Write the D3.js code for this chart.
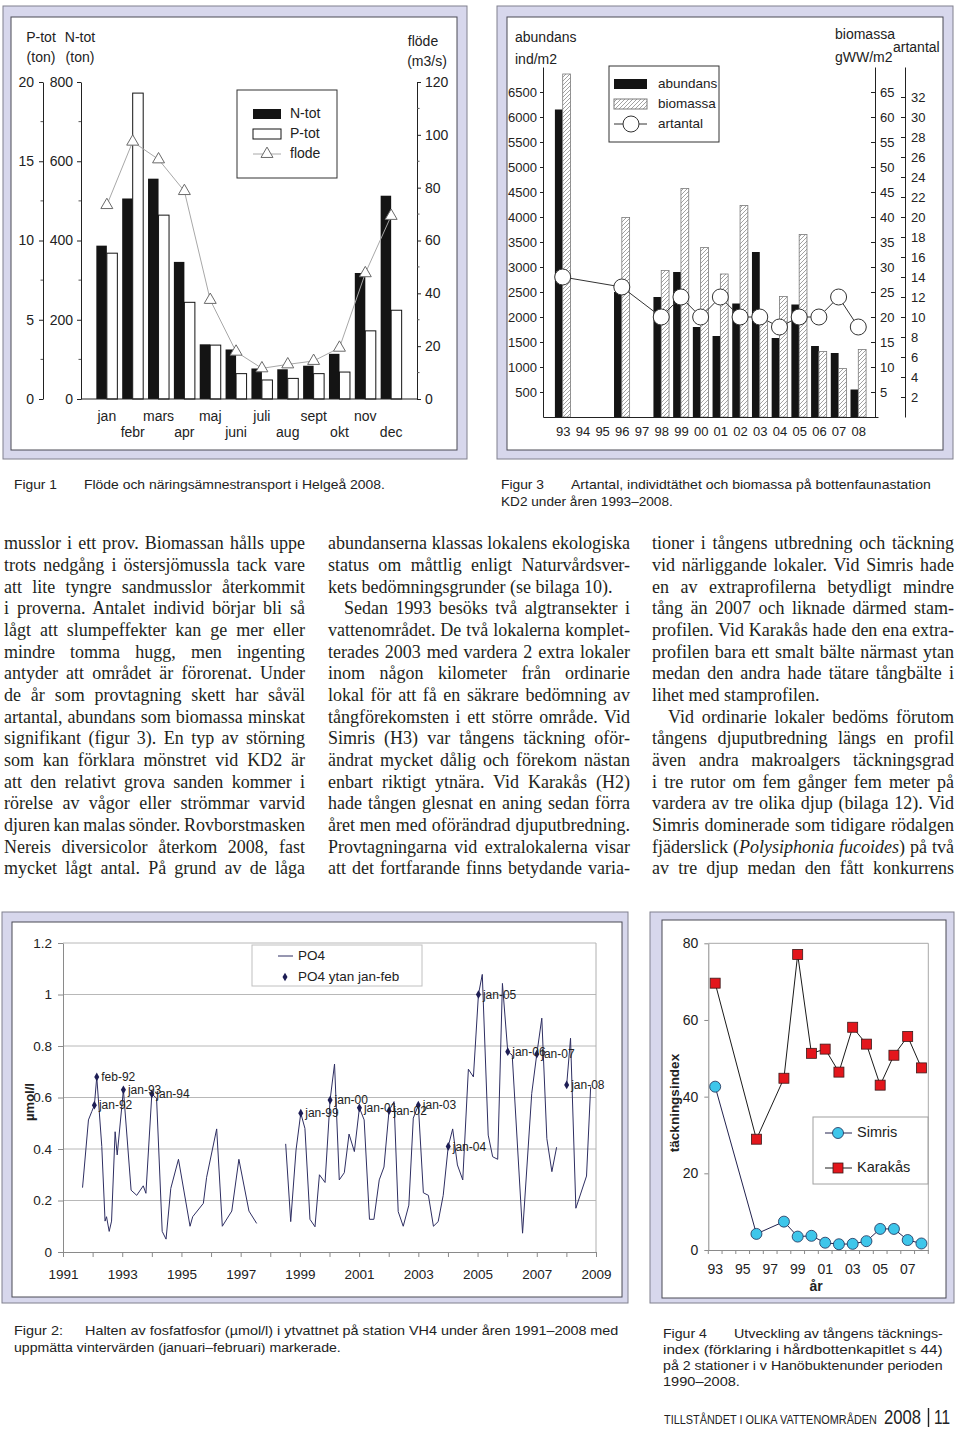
<!DOCTYPE html>
<html><head><meta charset="utf-8">
<script src="https://cdn.jsdelivr.net/npm/d3@7/dist/d3.min.js"></script>
<style>body{margin:0;background:#fff}svg{display:block}</style>
</head><body>
<svg id="page" width="960" height="1432"></svg>
<script>
// ---------- Figur 1 data ----------
const fig1Months = ["jan","febr","mars","apr","maj","juni","juli","aug","sept","okt","nov","dec"];
const fig1Ntot = [387,506,556,346,138,125,77,75,84,114,318,513];
const fig1Ptot = [9.2,19.3,11.6,6.1,3.4,1.6,1.2,1.3,1.6,1.7,4.3,5.6];
const fig1Flode = [73.4,97.4,90.7,78.7,37.5,17.9,11.6,13.1,14.4,19.4,47.6,69.3];
const fig1PTicks = [0,5,10,15,20];
const fig1NTicks = [0,200,400,600,800];
const fig1FTicks = [0,20,40,60,80,100,120];

// ---------- Figur 3 data ----------
const fig3Years = ["93","94","95","96","97","98","99","00","01","02","03","04","05","06","07","08"];
const fig3Abundans = [6150,null,null,2500,null,2400,2900,1800,1620,2270,3300,1580,2250,1420,1280,550];
const fig3Biomassa = [68.6,null,null,39.9,null,29.3,45.7,33.9,28.6,42.3,19,24.1,36.5,13.1,9.7,13.5];
const fig3Artantal = [14,null,null,13,null,10,12,10,12,10,10,9,10,10,12,9];
const fig3AbTicks = [500,1000,1500,2000,2500,3000,3500,4000,4500,5000,5500,6000,6500];
const fig3BioTicks = [5,10,15,20,25,30,35,40,45,50,55,60,65];
const fig3ArtTicks = [2,4,6,8,10,12,14,16,18,20,22,24,26,28,30,32];

// ---------- Figur 2 data ----------
const po4Time = [1991.66,1991.86,1991.97,1992.06,1992.14,1992.31,1992.42,1992.47,1992.56,1992.64,1992.76,1992.83,1993.04,1993.30,1993.49,1993.71,1993.80,1994.00,1994.16,1994.35,1994.48,1994.64,1994.90,1995.29,1995.38,1995.74,1995.85,1996.19,1996.38,1996.70,1996.94,1997.28,1997.54,null,
 1998.52,1998.69,1998.87,1999.03,1999.17,1999.34,1999.51,1999.66,1999.85,2000.02,2000.17,2000.33,2000.50,2000.66,2000.84,2001.01,2001.17,2001.35,2001.50,2001.68,2001.84,2002.01,2002.18,2002.32,2002.49,2002.68,2002.83,2003.00,2003.17,2003.34,2003.51,2003.67,2003.84,2004.01,2004.16,2004.32,2004.50,2004.69,2004.86,2005.03,2005.16,2005.36,2005.51,2005.68,2005.84,2006.02,2006.17,2006.52,2006.83,2007.00,2007.17,2007.34,2007.51,2007.67,null,
 2008.01,2008.14,2008.32,2008.68,2008.82];
const po4Value = [0.25,0.513,0.545,0.57,0.68,0.41,0.12,0.137,0.08,0.12,0.467,0.377,0.63,0.24,0.22,0.257,0.228,0.614,0.597,0.08,0.05,0.247,0.36,0.10,0.137,0.189,0.29,0.478,0.10,0.159,0.36,0.159,0.111,null,
 0.42,0.118,0.396,0.539,0.48,0.127,0.098,0.30,0.27,0.59,0.73,0.28,0.308,0.458,0.39,0.56,0.513,0.127,0.127,0.28,0.33,0.549,0.584,0.157,0.10,0.182,0.52,0.57,0.23,0.22,0.10,0.118,0.22,0.41,0.478,0.338,0.28,0.71,0.68,1.0,1.078,0.454,0.37,0.36,1.043,0.778,0.765,0.073,0.616,0.768,0.908,0.44,0.312,0.407,null,
 0.649,0.83,0.17,0.295,0.642];
const winterLabel = ["jan-92","feb-92","jan-93","jan-94","jan-99","jan-00","jan-01","jan-02","jan-03","jan-04","jan-05","jan-06","jan-07","jan-08"];
const winterTime = [1992.06,1992.14,1993.04,1994.00,1999.03,2000.02,2001.01,2002.01,2003.00,2004.01,2005.03,2006.02,2007.00,2008.01];
const winterValue = [0.57,0.68,0.63,0.614,0.539,0.59,0.56,0.549,0.57,0.41,1.0,0.778,0.768,0.649];
const fig2YTicks = [0,0.2,0.4,0.6,0.8,1,1.2];
const fig2XTicks = [1991,1993,1995,1997,1999,2001,2003,2005,2007,2009];

// ---------- Figur 4 data ----------
const fig4Years = ["93","94","95","96","97","98","99","00","01","02","03","04","05","06","07","08"];
const fig4Karakas = [69.6,null,null,28.9,null,44.8,77.1,51.3,52.4,46.4,58.1,53.7,43.0,50.8,55.7,47.5];
const fig4Simris = [42.6,null,null,4.2,null,7.4,3.5,3.7,1.9,1.5,1.6,2.3,5.5,5.5,2.6,1.7];
const fig4YTicks = [0,20,40,60,80];
const fig4XLabels = ["93","95","97","99","01","03","05","07"];

// ---------- Body text ----------
const col1Lines = [
"musslor i ett prov. Biomassan hålls uppe",
"trots nedgång i östersjömussla tack vare",
"att lite tyngre sandmusslor återkommit",
"i proverna. Antalet individ börjar bli så",
"lågt att slumpeffekter kan ge mer eller",
"mindre tomma hugg, men ingenting",
"antyder att området är förorenat. Under",
"de år som provtagning skett har såväl",
"artantal, abundans som biomassa minskat",
"signifikant (figur 3). En typ av störning",
"som kan förklara mönstret vid KD2 är",
"att den relativt grova sanden kommer i",
"rörelse av vågor eller strömmar varvid",
"djuren kan malas sönder. Rovborstmasken",
"Nereis diversicolor återkom 2008, fast",
"mycket lågt antal. På grund av de låga"];
const col2Lines = [
"abundanserna klassas lokalens ekologiska",
"status om måttlig enligt Naturvårdsver-",
"kets bedömningsgrunder (se bilaga 10).",
"Sedan 1993 besöks två algtransekter i",
"vattenområdet. De två lokalerna komplet-",
"terades 2003 med vardera 2 extra lokaler",
"inom någon kilometer från ordinarie",
"lokal för att få en säkrare bedömning av",
"tångförekomsten i ett större område. Vid",
"Simris (H3) var tångens täckning oför-",
"ändrat mycket dålig och förekom nästan",
"enbart riktigt ytnära. Vid Karakås (H2)",
"hade tången glesnat en aning sedan förra",
"året men med oförändrad djuputbredning.",
"Provtagningarna vid extralokalerna visar",
"att det fortfarande finns betydande varia-"];
const col2ParEnd = [2];
const col2Indent = [3];
const col3Lines = [
"tioner i tångens utbredning och täckning",
"vid närliggande lokaler. Vid Simris hade",
"en av extraprofilerna betydligt mindre",
"tång än 2007 och liknade därmed stam-",
"profilen. Vid Karakås hade den ena extra-",
"profilen bara ett smalt bälte närmast ytan",
"medan den andra hade tätare tångbälte i",
"lihet med stamprofilen.",
"Vid ordinarie lokaler bedöms förutom",
"tångens djuputbredning längs en profil",
"även andra makroalgers täckningsgrad",
"i tre rutor om fem gånger fem meter på",
"vardera av tre olika djup (bilaga 12). Vid",
"Simris dominerade som tidigare rödalgen",
"fjäderslick (*Polysiphonia fucoides*) på två",
"av tre djup medan den fått konkurrens"];
const col3ParEnd = [7];
const col3Indent = [8];

// =====================================================
const svg = d3.select("#page");
svg.append("rect").attr("width",960).attr("height",1432).attr("fill","#fff");
const SANS = "Liberation Sans, Arial, sans-serif";
const INK = "#222";

function frame(o, i){
  svg.append("rect").attr("x",o[0]).attr("y",o[1]).attr("width",o[2]-o[0]).attr("height",o[3]-o[1])
    .attr("fill","#d7d7ec").attr("stroke","#80808e").attr("stroke-width",1);
  svg.append("rect").attr("x",i[0]).attr("y",i[1]).attr("width",i[2]-i[0]).attr("height",i[3]-i[1])
    .attr("fill","#fff").attr("stroke","#4a4a55").attr("stroke-width",1);
}
function txt(g, x, y, s, size, anchor, extra){
  const t = g.append("text").attr("x",x).attr("y",y).attr("font-family",SANS).attr("font-size",size)
    .attr("fill",INK).attr("text-anchor",anchor||"start").attr("dominant-baseline","middle").text(s);
  if(extra) extra(t);
  return t;
}
function styleAxis(g, size, color){
  g.selectAll("text").attr("font-family",SANS).attr("font-size",size).attr("fill",INK);
  g.selectAll("line").attr("stroke",color||"#222");
  g.selectAll("path.domain").attr("stroke",color||"#222");
}

// ================= FIGUR 1 =================
frame([3,6,467,459],[11,17,457,450]);
const g1 = svg.append("g");
const x1 = d3.scalePoint().domain(fig1Months).range([81,417]).padding(1);
const yN = d3.scaleLinear().domain([0,800]).range([399,82]);
const yP = d3.scaleLinear().domain([0,20]).range([399,82]);
const yF = d3.scaleLinear().domain([0,120]).range([399,82]);
const bw1 = 10.5;
g1.selectAll("rect.n").data(fig1Months).join("rect")
  .attr("x",d=>x1(d)-bw1).attr("width",bw1)
  .attr("y",(d,i)=>yN(fig1Ntot[i])).attr("height",(d,i)=>yN(0)-yN(fig1Ntot[i]))
  .attr("fill","#141414");
g1.selectAll("rect.p").data(fig1Months).join("rect")
  .attr("x",d=>x1(d)).attr("width",bw1)
  .attr("y",(d,i)=>yP(fig1Ptot[i])).attr("height",(d,i)=>yP(0)-yP(fig1Ptot[i]))
  .attr("fill","#fff").attr("stroke","#141414").attr("stroke-width",1);
const aP = g1.append("g").attr("transform","translate(43,0)")
  .call(d3.axisLeft(yP).tickValues(fig1PTicks).tickSize(4).tickSizeOuter(0).tickPadding(5));
styleAxis(aP,14);
const aN = g1.append("g").attr("transform","translate(81,0)")
  .call(d3.axisLeft(yN).tickValues(fig1NTicks).tickSize(4).tickSizeOuter(0).tickPadding(4));
styleAxis(aN,14);
const aF = g1.append("g").attr("transform","translate(417,0)")
  .call(d3.axisRight(yF).tickValues(fig1FTicks).tickSize(4).tickSizeOuter(0).tickPadding(4));
styleAxis(aF,14);
[[43,yP,d3.range(2.5,20,5),-1],[81,yN,d3.range(100,800,200),-1],[417,yF,d3.range(10,120,20),1]].forEach(([ax,sc,vals,dir])=>{
  g1.selectAll(null).data(vals).join("line").attr("x1",ax).attr("x2",ax+dir*2.5)
    .attr("y1",d=>sc(d)).attr("y2",d=>sc(d)).attr("stroke","#555");
});
g1.append("line").attr("x1",81).attr("x2",417).attr("y1",yN(0)).attr("y2",yN(0)).attr("stroke","#222");
g1.append("path").datum(fig1Months)
  .attr("d",d3.line().x(d=>x1(d)).y((d,i)=>yF(fig1Flode[i])))
  .attr("fill","none").attr("stroke","#a8a8a8").attr("stroke-width",1);
g1.selectAll("path.tri").data(fig1Months).join("path")
  .attr("transform",(d,i)=>`translate(${x1(d)},${yF(fig1Flode[i])})`)
  .attr("d",d3.symbol(d3.symbolTriangle,62))
  .attr("fill","#fff").attr("stroke","#6a6a6a").attr("stroke-width",1);
g1.selectAll("text.m").data(fig1Months).join("text")
  .attr("x",d=>x1(d)).attr("y",(d,i)=>i%2===0?417:433)
  .attr("text-anchor","middle").attr("dominant-baseline","middle")
  .attr("font-family",SANS).attr("font-size",14).attr("fill",INK).text(d=>d);
txt(g1,41,38,"P-tot",14,"middle"); txt(g1,41,58,"(ton)",14,"middle");
txt(g1,80,38,"N-tot",14,"middle"); txt(g1,80,58,"(ton)",14,"middle");
txt(g1,423,42,"flöde",14,"middle"); txt(g1,427,62,"(m3/s)",14,"middle");
g1.append("rect").attr("x",237).attr("y",90).attr("width",100).attr("height",88).attr("fill","#fff").attr("stroke","#333");
g1.append("rect").attr("x",253).attr("y",109).attr("width",28).attr("height",10).attr("fill","#141414");
g1.append("rect").attr("x",253).attr("y",129).attr("width",28).attr("height",10).attr("fill","#fff").attr("stroke","#141414");
g1.append("line").attr("x1",253).attr("x2",281).attr("y1",154).attr("y2",154).attr("stroke","#a8a8a8");
g1.append("path").attr("transform","translate(267,154)").attr("d",d3.symbol(d3.symbolTriangle,62)).attr("fill","#fff").attr("stroke","#6a6a6a");
txt(g1,290,114,"N-tot",14); txt(g1,290,134,"P-tot",14); txt(g1,290,154,"flode",14);

// ================= FIGUR 3 =================
frame([497,6,953,459],[507,17,943,450]);
const g3 = svg.append("g");
const defs = svg.append("defs");
const pat = defs.append("pattern").attr("id","hatch").attr("patternUnits","userSpaceOnUse").attr("width",4).attr("height",4);
pat.append("rect").attr("width",4).attr("height",4).attr("fill","#fff");
pat.append("path").attr("d","M-1,1 l2,-2 M0,4 l4,-4 M3,5 l2,-2").attr("stroke","#8a8a8a").attr("stroke-width",0.8);
const x3 = d3.scalePoint().domain(fig3Years).range([543,878]).padding(1);
const yA = d3.scaleLinear().domain([0,7000]).range([417,67]);
const yB = d3.scaleLinear().domain([0,70]).range([417,67]);
const yS = d3.scaleLinear().domain([0,35]).range([417,67]);
const bw3 = 7.8;
const abIdx = fig3Years.map((d,i)=>i).filter(i=>fig3Abundans[i]!=null);
g3.selectAll("rect.a").data(abIdx).join("rect")
  .attr("x",i=>x3(fig3Years[i])-bw3).attr("width",bw3)
  .attr("y",i=>yA(fig3Abundans[i])).attr("height",i=>yA(0)-yA(fig3Abundans[i]))
  .attr("fill","#141414");
const bioIdx = fig3Years.map((d,i)=>i).filter(i=>fig3Biomassa[i]!=null);
g3.selectAll("rect.b").data(bioIdx).join("rect")
  .attr("x",i=>x3(fig3Years[i])).attr("width",bw3)
  .attr("y",i=>yB(fig3Biomassa[i])).attr("height",i=>yB(0)-yB(fig3Biomassa[i]))
  .attr("fill","url(#hatch)").attr("stroke","#7a7a7a").attr("stroke-width",0.8);
const aA = g3.append("g").attr("transform","translate(543,0)")
  .call(d3.axisLeft(yA).tickValues(fig3AbTicks).tickSize(3).tickSizeOuter(0).tickPadding(3).tickFormat(d3.format("d")));
styleAxis(aA,13);
const aB = g3.append("g").attr("transform","translate(875,0)")
  .call(d3.axisRight(yB).tickValues(fig3BioTicks).tickSize(-4).tickSizeOuter(0).tickPadding(5));
styleAxis(aB,13);
const aS = g3.append("g").attr("transform","translate(905,0)")
  .call(d3.axisRight(yS).tickValues(fig3ArtTicks).tickSize(-4).tickSizeOuter(0).tickPadding(6));
styleAxis(aS,13);
const aX3 = g3.append("g").attr("transform",`translate(0,${yA(0)})`)
  .call(d3.axisBottom(x3).tickSize(0).tickSizeOuter(0).tickPadding(10));
styleAxis(aX3,13);
const artIdx = fig3Years.map((d,i)=>i).filter(i=>fig3Artantal[i]!=null);
g3.append("path").datum(artIdx)
  .attr("d",d3.line().x(i=>x3(fig3Years[i])).y(i=>yS(fig3Artantal[i])))
  .attr("fill","none").attr("stroke","#333").attr("stroke-width",1);
g3.selectAll("circle.s").data(artIdx).join("circle")
  .attr("cx",i=>x3(fig3Years[i])).attr("cy",i=>yS(fig3Artantal[i])).attr("r",8)
  .attr("fill","#fff").attr("stroke","#333").attr("stroke-width",1);
txt(g3,515,38,"abundans",14); txt(g3,515,60,"ind/m2",14);
txt(g3,835,35,"biomassa",14); txt(g3,835,58,"gWW/m2",14);
txt(g3,893,48,"artantal",14);
g3.append("rect").attr("x",609).attr("y",66).attr("width",110).attr("height",76).attr("fill","#fff").attr("stroke","#333");
g3.append("rect").attr("x",614).attr("y",79).attr("width",33).attr("height",10).attr("fill","#141414");
g3.append("rect").attr("x",614).attr("y",99).attr("width",33).attr("height",10).attr("fill","url(#hatch)").attr("stroke","#7a7a7a");
g3.append("line").attr("x1",614).attr("x2",647).attr("y1",124).attr("y2",124).attr("stroke","#333");
g3.append("circle").attr("cx",631).attr("cy",124).attr("r",8).attr("fill","#fff").attr("stroke","#333");
txt(g3,658,84,"abundans",13.5); txt(g3,658,104,"biomassa",13.5); txt(g3,658,124,"artantal",13.5);

// ================= FIGUR 2 =================
frame([2,912,628,1303],[12,922,622,1297]);
const g2 = svg.append("g");
const xT = d3.scaleLinear().domain([1991,2009]).range([63,596]);
const yV = d3.scaleLinear().domain([0,1.2]).range([1252,943]);
g2.selectAll("line.grid").data(fig2YTicks.slice(1)).join("line")
  .attr("x1",xT(1991)).attr("x2",xT(2009)).attr("y1",d=>yV(d)).attr("y2",d=>yV(d))
  .attr("stroke","#b8b8b8").attr("stroke-width",1);
g2.append("line").attr("x1",xT(2009)).attr("x2",xT(2009)).attr("y1",yV(1.2)).attr("y2",yV(0)).attr("stroke","#b0b0b0");
const aY2 = g2.append("g").attr("transform","translate(63,0)")
  .call(d3.axisLeft(yV).tickValues(fig2YTicks).tickSize(5).tickSizeOuter(0).tickPadding(6)
    .tickFormat(d=>String(+d.toFixed(1))));
styleAxis(aY2,13.5,"#8a8a8a");
const aX2 = g2.append("g").attr("transform",`translate(0,${yV(0)})`)
  .call(d3.axisBottom(xT).tickValues(d3.range(1991,2010)).tickSize(5).tickSizeOuter(0).tickPadding(12)
    .tickFormat(d=>fig2XTicks.includes(d)?String(d):""));
styleAxis(aX2,13.5,"#8a8a8a");
const po4 = po4Time.map((t,i)=>({t:t, v:po4Value[i]}));
g2.append("path").datum(po4)
  .attr("d",d3.line().defined(d=>d.t!=null&&d.v!=null).x(d=>xT(d.t)).y(d=>yV(d.v)))
  .attr("fill","none").attr("stroke","#2e2e62").attr("stroke-width",1);
g2.selectAll("path.w").data(winterLabel).join("path")
  .attr("transform",(d,i)=>`translate(${xT(winterTime[i])},${yV(winterValue[i])})`)
  .attr("d",d3.symbol(d3.symbolDiamond,22)).attr("fill","#1e1e55");
g2.selectAll("text.w").data(winterLabel).join("text")
  .attr("x",(d,i)=>xT(winterTime[i])+4.5).attr("y",(d,i)=>yV(winterValue[i])+1)
  .attr("dominant-baseline","middle").attr("font-family",SANS).attr("font-size",12).attr("fill",INK).text(d=>d);
txt(g2,31,1102,"µmol/l",13,"middle",t=>t.attr("font-weight","bold").attr("transform","rotate(-90,31,1102)"));
g2.append("rect").attr("x",252).attr("y",945).attr("width",170).attr("height",41).attr("fill","#fff").attr("stroke","#c0c0c0");
g2.append("line").attr("x1",278).attr("x2",293).attr("y1",956).attr("y2",956).attr("stroke","#2e2e62");
g2.append("path").attr("transform","translate(285,977)").attr("d",d3.symbol(d3.symbolDiamond,22)).attr("fill","#1e1e55");
txt(g2,298,956,"PO4",13.5); txt(g2,298,977,"PO4 ytan jan-feb",13.5);

// ================= FIGUR 4 =================
frame([650,912,954,1303],[662,920,946,1298]);
const g4 = svg.append("g");
const x4 = d3.scaleBand().domain(fig4Years).range([708.3,928.3]);
const cx4 = d=>x4(d)+x4.bandwidth()/2;
const y4 = d3.scaleLinear().domain([0,80]).range([1250,943.3]);
g4.append("line").attr("x1",708.3).attr("x2",928.3).attr("y1",y4(80)).attr("y2",y4(80)).attr("stroke","#a8a8a8");
g4.append("line").attr("x1",928.3).attr("x2",928.3).attr("y1",y4(80)).attr("y2",y4(0)).attr("stroke","#a8a8a8");
const aY4 = g4.append("g").attr("transform","translate(708.3,0)")
  .call(d3.axisLeft(y4).tickValues(fig4YTicks).tickSize(4).tickSizeOuter(0).tickPadding(6));
styleAxis(aY4,14,"#8a8a8a");
const aX4 = g4.append("g").attr("transform",`translate(0,${y4(0)})`)
  .call(d3.axisBottom(x4).tickSize(0).tickSizeOuter(0).tickPadding(14)
    .tickFormat(d=>fig4XLabels.includes(d)?d:""));
styleAxis(aX4,14,"#8a8a8a");
g4.selectAll("line.bt").data(fig4Years.concat(["end"])).join("line")
  .attr("x1",d=>d==="end"?x4.range()[1]:x4(d)).attr("x2",d=>d==="end"?x4.range()[1]:x4(d))
  .attr("y1",y4(0)).attr("y2",y4(0)+4).attr("stroke","#8a8a8a");
const kIdx = fig4Years.filter((d,i)=>fig4Karakas[i]!=null);
const sIdx = fig4Years.filter((d,i)=>fig4Simris[i]!=null);
const kv = d=>fig4Karakas[fig4Years.indexOf(d)];
const sv = d=>fig4Simris[fig4Years.indexOf(d)];
g4.append("path").datum(kIdx).attr("d",d3.line().x(cx4).y(d=>y4(kv(d))))
  .attr("fill","none").attr("stroke","#1a1a1a").attr("stroke-width",1);
g4.append("path").datum(sIdx).attr("d",d3.line().x(cx4).y(d=>y4(sv(d))))
  .attr("fill","none").attr("stroke","#22224e").attr("stroke-width",1);
g4.selectAll("rect.k").data(kIdx).join("rect")
  .attr("x",d=>cx4(d)-5).attr("y",d=>y4(kv(d))-5).attr("width",10).attr("height",10)
  .attr("fill","#e3161c").attr("stroke","#3a1a1a").attr("stroke-width",0.8);
g4.selectAll("circle.s").data(sIdx).join("circle")
  .attr("cx",cx4).attr("cy",d=>y4(sv(d))).attr("r",5.5)
  .attr("fill","#3ec6ea").attr("stroke","#1c2c55").attr("stroke-width",0.8);
txt(g4,675,1103,"täckningsindex",13.5,"middle",t=>t.attr("font-weight","bold").attr("transform","rotate(-90,675,1103)"));
txt(g4,816,1287,"år",14,"middle",t=>t.attr("font-weight","bold"));
g4.append("rect").attr("x",813).attr("y",1117).attr("width",115).attr("height",67).attr("fill","#fff").attr("stroke","#a0a0a0");
g4.append("line").attr("x1",825).attr("x2",852).attr("y1",1133).attr("y2",1133).attr("stroke","#22224e");
g4.append("circle").attr("cx",838).attr("cy",1133).attr("r",5.5).attr("fill","#3ec6ea").attr("stroke","#1c2c55").attr("stroke-width",0.8);
g4.append("line").attr("x1",825).attr("x2",852).attr("y1",1168).attr("y2",1168).attr("stroke","#1a1a1a");
g4.append("rect").attr("x",833).attr("y",1163).attr("width",10).attr("height",10).attr("fill","#e3161c").attr("stroke","#3a1a1a").attr("stroke-width",0.8);
txt(g4,857,1133,"Simris",14.5); txt(g4,857,1168,"Karakås",14.5);

// ================= Captions =================
const CAP = "Liberation Sans, Arial, sans-serif";
function cap(x, base, s, width, size){
  const t = svg.append("text").attr("x",0).attr("y",0).attr("font-family",CAP)
    .attr("font-size",size||13.5).attr("fill","#222").text(s);
  const w = t.node().getComputedTextLength();
  const k = width ? width/w : 1;
  t.attr("transform",`translate(${x},${base}) scale(${k},1)`);
  return t;
}
cap(14,489,"Figur 1",43); cap(84,489,"Flöde och näringsämnestransport i Helgeå 2008.",301);
cap(501,489,"Figur 3",43); cap(571,489,"Artantal, individtäthet och biomassa på bottenfaunastation",360);
cap(501,506,"KD2 under åren 1993–2008.",172);
cap(14,1335,"Figur 2:",49); cap(85,1335,"Halten av fosfatfosfor (µmol/l) i ytvattnet på station VH4 under åren 1991–2008 med",534);
cap(14,1352,"uppmätta vintervärden (januari–februari) markerade.",327);
cap(663,1338,"Figur 4",44); cap(734,1338,"Utveckling av tångens täcknings-",209);
cap(663,1354,"index (förklaring i hårdbottenkapitlet s 44)",280);
cap(663,1370,"på 2 stationer i v Hanöbuktenunder perioden",280);
cap(663,1386,"1990–2008.",77);
cap(664,1424,"TILLSTÅNDET I OLIKA VATTENOMRÅDEN",213,13);
cap(884,1424,"2008",37,20);
svg.append("line").attr("x1",928.5).attr("x2",928.5).attr("y1",1408).attr("y2",1427).attr("stroke","#222").attr("stroke-width",1.4);
cap(934,1424,"11",16,20);

// ================= Body text =================
const SERIF = "Liberation Serif, Times New Roman, serif";
function column(lines, x, width, parEnd, indent){
  const g = svg.append("g");
  lines.forEach((s,i)=>{
    const ind = indent.includes(i)?16:0;
    const t = g.append("text").attr("x",x+ind).attr("y",549.3+i*21.67)
      .attr("font-family",SERIF).attr("font-size",18).attr("fill","#231f20");
    s.split("*").forEach((p,k)=>{ if(p) t.append("tspan").attr("font-style",k%2?"italic":null).text(p); });
    if(!parEnd.includes(i)){
      const w = t.node().getComputedTextLength();
      const n = (s.match(/ /g)||[]).length;
      if(n>0) t.style("word-spacing",((width-ind-w)/n)+"px");
    }
  });
}
column(col1Lines,4,301,[],[]);
column(col2Lines,328,302,col2ParEnd,col2Indent);
column(col3Lines,652,302,col3ParEnd,col3Indent);
</script>
</body></html>
